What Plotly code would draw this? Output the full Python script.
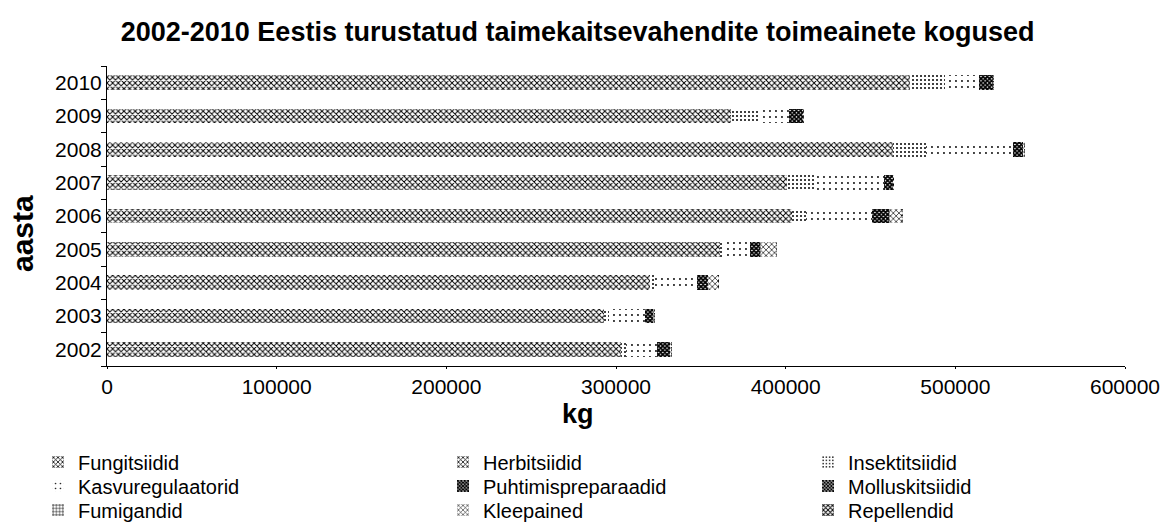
import plotly.graph_objects as go

years = ["2002", "2003", "2004", "2005", "2006", "2007", "2008", "2009", "2010"]

fungitsiidid = [50000, 45000, 50000, 55000, 60000, 60000, 70000, 55000, 70000]
herbitsiidid = [253000, 248000, 270000, 306000, 344000, 341000, 393000, 313000, 403000]
insektitsiidid = [3000, 3000, 3000, 2000, 8000, 17000, 20000, 16000, 21000]
kasvuregulaatorid = [18000, 21000, 25000, 16000, 39000, 40000, 51000, 18000, 20000]
puhtimispreparaadid = [8000, 5000, 6000, 6000, 10000, 5000, 6000, 8000, 8000]
molluskitsiidid = [300, 300, 300, 300, 300, 300, 300, 300, 300]
fumigandid = [200, 200, 200, 200, 200, 200, 200, 200, 200]
kleepained = [0, 0, 6000, 9000, 7000, 0, 0, 0, 0]
repellendid = [100, 100, 100, 100, 100, 100, 100, 100, 100]

x_ticks = [0, 100000, 200000, 300000, 400000, 500000, 600000]

series = [
    ("Fungitsiidid", fungitsiidid, dict(shape="x", size=4, solidity=0.43)),
    ("Herbitsiidid", herbitsiidid, dict(shape="x", size=4, solidity=0.42)),
    ("Insektitsiidid", insektitsiidid, dict(shape=".", size=4, solidity=0.2)),
    ("Kasvuregulaatorid", kasvuregulaatorid, dict(shape=".", size=6, solidity=0.08)),
    ("Puhtimispreparaadid", puhtimispreparaadid, dict(shape="x", size=3, solidity=0.8)),
    ("Molluskitsiidid", molluskitsiidid, dict(shape="x", size=3, solidity=0.7)),
    ("Fumigandid", fumigandid, dict(shape="+", size=4, solidity=0.3)),
    ("Kleepained", kleepained, dict(shape="x", size=4, solidity=0.3)),
    ("Repellendid", repellendid, dict(shape="x", size=4, solidity=0.5)),
]

FONT = "Liberation Sans, Arial, sans-serif"

# plot area in pixels: x 107..1125, y 66..366
L, R, T, B = 107, 42, 66, 165
PW, PH = 1167 - L - R, 531 - T - B

def px_x(px):
    return (px - L) / PW

def px_y(py):
    return (531 - B - py) / PH

legend_text_x = [78, 483, 848]
legend_row_y = [462, 486, 510]

fig = go.Figure()
layout_legends = {}
for i, (name, vals, pat) in enumerate(series):
    lg = "legend" if i == 0 else f"legend{i + 1}"
    fig.add_trace(go.Bar(
        y=years, x=vals, name=name, orientation="h", showlegend=True,
        marker=dict(color="white", line=dict(width=0),
                    pattern=dict(fgcolor="black", bgcolor="white", fillmode="replace", **pat)),
        legend=lg,
    ))
    col, row = i % 3, i // 3
    layout_legends[lg] = dict(
        x=px_x(legend_text_x[col] - 40), xanchor="left",
        y=px_y(legend_row_y[row]), yanchor="middle",
        orientation="v", font=dict(family=FONT, size=20, color="black"),
        bgcolor="rgba(0,0,0,0)", itemwidth=30, borderwidth=0,
    )

fig.update_layout(
    showlegend=True,
    barmode="stack",
    bargap=0.56,
    width=1167, height=531,
    margin=dict(l=L, r=R, t=T, b=B, autoexpand=False),
    paper_bgcolor="white", plot_bgcolor="white",
    font=dict(family=FONT, size=21, color="black"),
    title=dict(text="<b>2002-2010 Eestis turustatud taimekaitsevahendite toimeainete kogused</b>",
               x=0.495, xanchor="center", y=1 - 32 / 531, yanchor="middle",
               font=dict(family=FONT, size=27, color="black")),
    xaxis=dict(range=[0, 600000], tickvals=x_ticks, tickformat="d", automargin=False,
               showgrid=False, zeroline=False, showline=True, linecolor="black", linewidth=1,
               ticks="outside", ticklen=2, tickcolor="black",
               tickfont=dict(family=FONT, size=21, color="black")),
    yaxis=dict(categoryorder="array", categoryarray=years, automargin=False,
               showgrid=False, showline=True, linecolor="black", linewidth=1,
               ticks="outside", ticklen=5, tickcolor="black", tickson="boundaries",
               tickfont=dict(family=FONT, size=21, color="black")),
    annotations=[
        dict(text="<b>aasta</b>", xref="paper", yref="paper", x=px_x(22), y=px_y(234),
             textangle=-90, showarrow=False, xanchor="center", yanchor="middle",
             font=dict(family=FONT, size=30, color="black")),
        dict(text="<b>kg</b>", xref="paper", yref="paper", x=px_x(578), y=px_y(414),
             showarrow=False, xanchor="center", yanchor="middle",
             font=dict(family=FONT, size=27, color="black")),
    ],
    **layout_legends,
)

fig.write_html("out.html",
               config={"displayModeBar": False},
               post_script="document.body.style.margin='0';document.body.style.padding='0';")
